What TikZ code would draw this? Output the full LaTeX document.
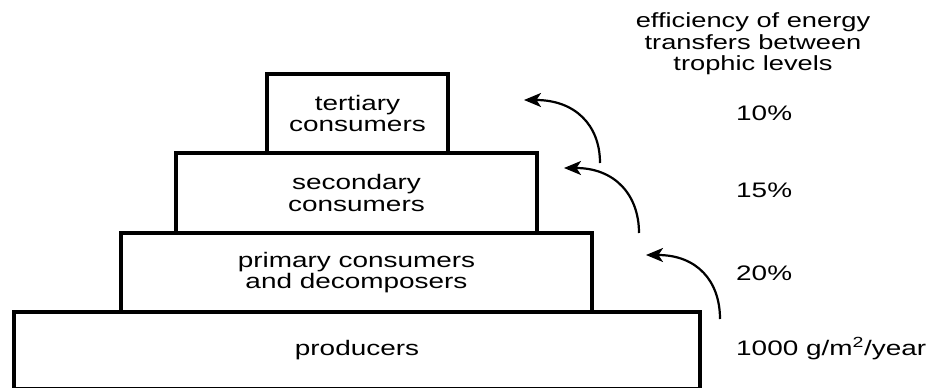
\documentclass[tikz,border=0pt]{standalone}
\usepackage{fontspec}
\setmainfont{Liberation Sans}[FakeStretch=1.33]
\usetikzlibrary{arrows.meta}
\tikzset{
  pbox/.style={draw=black, line width=4pt, rectangle, inner sep=0pt, align=center,
    font=\fontsize{21}{21.5}\selectfont},
  lbl/.style={anchor=base west, inner sep=0pt, font=\fontsize{21}{21.5}\selectfont},
  hdr/.style={align=center, inner sep=0pt, font=\fontsize{20.5}{21.5}\selectfont},
  flow/.style={line width=2.2pt, -{Stealth[length=17pt,width=14pt,inset=4.5pt]}}
}
\begin{document}
\begin{tikzpicture}[x=1pt,y=-1pt]
\useasboundingbox (0,0) rectangle (932,388);
% pyramid levels
\node[pbox, minimum width=686pt, minimum height=77pt] (prod) at (357,350.5) {producers};
\node[pbox, minimum width=471pt, minimum height=79pt] (prim) at (356.5,272.5) {primary consumers\\and decomposers};
\node[pbox, minimum width=361pt, minimum height=80pt] (sec) at (356.5,193) {secondary\\consumers};
\node[pbox, minimum width=181pt, minimum height=79pt] (ter) at (357.5,113.5) {tertiary\\consumers};
% header
\node[hdr] (head) at (753,44) {efficiency of energy\\transfers between\\trophic levels};
% labels
\node[lbl] (p10) at (736,120) {10\%};
\node[lbl] (p15) at (736,197) {15\%};
\node[lbl] (p20) at (736,280) {20\%};
\node[lbl] (base) at (736,355) {1000 g/m\textsuperscript{2}/year};
% arrows
\coordinate (a1s) at (600,163); \coordinate (a1e) at (524,100);
\coordinate (a2s) at (639,233); \coordinate (a2e) at (564,168);
\coordinate (a3s) at (720,319); \coordinate (a3e) at (646,255);
\draw[flow] (a1s) .. controls (600,125) and (575,100) .. (a1e);
\draw[flow] (a2s) .. controls (639,195) and (615,168) .. (a2e);
\draw[flow] (a3s) .. controls (720,281) and (697,255) .. (a3e);
\end{tikzpicture}
\end{document}
